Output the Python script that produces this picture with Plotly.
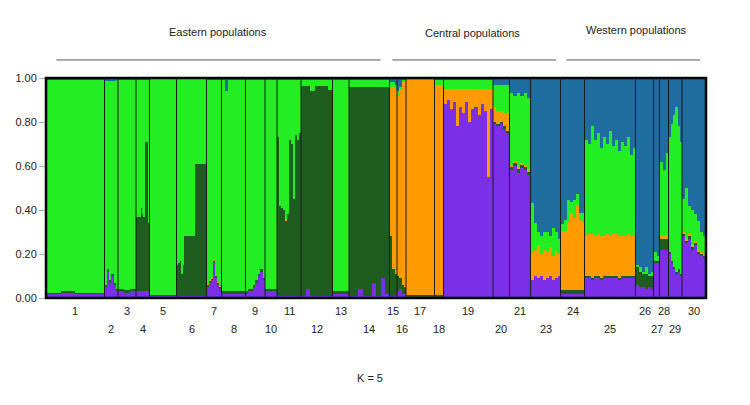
import plotly.graph_objects as go

# ---------------- data ----------------
pop_labels = ["1", "2", "3", "4", "5", "6", "7", "8", "9", "10", "11", "12", "13", "14",
              "15", "16", "17", "18", "19", "20", "21", "23", "24", "25", "26", "27", "28", "29", "30"]
pop_sizes = [39, 9, 12, 9, 18, 20, 10, 16, 13, 8, 16, 21, 11, 27,
             5, 6, 19, 6, 33, 11, 14, 20, 16, 34, 12, 4, 6, 9, 16]

cluster_names = ["Cluster 1", "Cluster 2", "Cluster 3", "Cluster 4", "Cluster 5"]
cluster_colors = ["#7b2fe6", "#1f5c1f", "#ff9a00", "#22ee22", "#1e6d9e"]

# membership rows per population: (purple, dark green, orange, green); blue = remainder
q_rows = {
    "1": [(0.02, 0.005, 0, 0.97), (0.025, 0.005, 0, 0.965), (0.02, 0.005, 0, 0.97), (0.02, 0.005, 0, 0.97)],
    "2": [(0.05, 0.01, 0, 0.925), (0.12, 0.01, 0, 0.855), (0.07, 0.01, 0, 0.905),
          (0.10, 0.01, 0, 0.875), (0.06, 0.01, 0, 0.915), (0.03, 0.01, 0, 0.95)],
    "3": [(0.03, 0.01, 0, 0.95), (0.025, 0.01, 0, 0.955), (0.03, 0.01, 0, 0.95)],
    "4": [(0.03, 0.34, 0, 0.625), (0.03, 0.34, 0, 0.625), (0.03, 0.34, 0, 0.625),
          (0.03, 0.38, 0, 0.585), (0.03, 0.35, 0, 0.615), (0.03, 0.34, 0, 0.625),
          (0.03, 0.68, 0, 0.285), (0.03, 0.68, 0, 0.285), (0.03, 0.31, 0, 0.655)],
    "5": [(0.01, 0.005, 0, 0.985), (0.01, 0.005, 0, 0.985)],
    "6": [(0.01, 0.14, 0, 0.85), (0.01, 0.15, 0, 0.84), (0.01, 0.16, 0, 0.83), (0.01, 0.10, 0, 0.89),
          (0.01, 0.14, 0, 0.85), (0.01, 0.27, 0, 0.72), (0.01, 0.27, 0, 0.72), (0.01, 0.27, 0, 0.72),
          (0.01, 0.27, 0, 0.72), (0.01, 0.27, 0, 0.72), (0.01, 0.27, 0, 0.72), (0.01, 0.27, 0, 0.72),
          (0.01, 0.60, 0, 0.39), (0.01, 0.60, 0, 0.39), (0.01, 0.60, 0, 0.39), (0.01, 0.60, 0, 0.39),
          (0.01, 0.60, 0, 0.39), (0.01, 0.60, 0, 0.39), (0.01, 0.60, 0, 0.39), (0.01, 0.60, 0, 0.39)],
    "7": [(0.05, 0.01, 0.005, 0.925), (0.07, 0.01, 0.005, 0.905), (0.08, 0.01, 0.005, 0.895),
          (0.16, 0.01, 0.005, 0.815), (0.09, 0.01, 0.005, 0.885), (0.06, 0.01, 0.005, 0.915),
          (0.04, 0.01, 0.005, 0.935)],
    "8": [(0.02, 0.01, 0, 0.96), (0.02, 0.01, 0, 0.91), (0.02, 0.01, 0, 0.96), (0.02, 0.01, 0, 0.96),
          (0.02, 0.01, 0, 0.96), (0.02, 0.01, 0, 0.96), (0.02, 0.01, 0, 0.96), (0.02, 0.01, 0, 0.96)],
    "9": [(0.02, 0.01, 0, 0.96), (0.03, 0.01, 0, 0.95), (0.03, 0.01, 0, 0.95), (0.05, 0.01, 0, 0.93),
          (0.07, 0.01, 0, 0.91), (0.10, 0.01, 0, 0.88), (0.12, 0.01, 0, 0.86), (0.08, 0.01, 0, 0.90)],
    "10": [(0.03, 0.01, 0, 0.95), (0.03, 0.01, 0, 0.95)],
    "11": [(0.01, 0.72, 0, 0.26), (0.01, 0.41, 0, 0.57), (0.01, 0.40, 0, 0.58), (0.01, 0.39, 0, 0.59),
           (0.01, 0.34, 0.01, 0.63), (0.01, 0.37, 0, 0.61), (0.01, 0.71, 0, 0.27), (0.01, 0.69, 0, 0.29),
           (0.01, 0.44, 0, 0.54), (0.01, 0.73, 0, 0.25), (0.01, 0.71, 0, 0.27), (0.01, 0.74, 0, 0.24)],
    "12": [(0.01, 0.955, 0, 0.03), (0.04, 0.925, 0, 0.03), (0.01, 0.93, 0, 0.055), (0.01, 0.955, 0, 0.03),
           (0.01, 0.955, 0, 0.03), (0.01, 0.955, 0, 0.03), (0.01, 0.935, 0, 0.05)],
    "13": [(0.02, 0.01, 0, 0.96), (0.02, 0.01, 0, 0.96)],
    "14": [(0.01, 0.95, 0, 0.03), (0.01, 0.95, 0, 0.03), (0.04, 0.92, 0, 0.03), (0.01, 0.95, 0, 0.03),
           (0.01, 0.95, 0, 0.03), (0.07, 0.89, 0, 0.03), (0.01, 0.95, 0, 0.03), (0.09, 0.87, 0, 0.03),
           (0.02, 0.94, 0, 0.03)],
    "15": [(0.01, 0.27, 0.68, 0.02), (0.01, 0.12, 0.83, 0.02), (0.01, 0.10, 0.84, 0.02)],
    "16": [(0.03, 0.07, 0.82, 0.02), (0.04, 0.05, 0.86, 0.01), (0.02, 0.04, 0.92, 0.01), (0.02, 0.03, 0.93, 0.01)],
    "17": [(0.005, 0.01, 0.975, 0.01), (0.005, 0.01, 0.975, 0.01)],
    "18": [(0.005, 0.01, 0.955, 0.02), (0.005, 0.01, 0.955, 0.02)],
    "19": [(0.88, 0, 0.07, 0.04), (0.90, 0, 0.05, 0.04), (0.86, 0, 0.09, 0.04), (0.89, 0, 0.06, 0.04),
           (0.78, 0, 0.17, 0.04), (0.87, 0, 0.08, 0.04), (0.84, 0, 0.11, 0.04), (0.89, 0, 0.06, 0.04),
           (0.80, 0, 0.15, 0.04), (0.86, 0, 0.09, 0.04), (0.87, 0, 0.08, 0.04), (0.83, 0, 0.12, 0.04),
           (0.88, 0, 0.07, 0.04), (0.85, 0, 0.10, 0.04), (0.55, 0, 0.40, 0.04), (0.86, 0, 0.09, 0.04)],
    "20": [(0.79, 0.01, 0.07, 0.10), (0.78, 0.01, 0.06, 0.12), (0.79, 0.01, 0.05, 0.12),
           (0.77, 0.01, 0.06, 0.13), (0.75, 0.01, 0.08, 0.13)],
    "21": [(0.58, 0.015, 0.01, 0.325), (0.60, 0.015, 0.01, 0.295), (0.57, 0.015, 0.01, 0.335),
           (0.59, 0.015, 0.01, 0.305), (0.58, 0.015, 0.01, 0.325), (0.56, 0.015, 0.01, 0.325)],
    "23": [(0.08, 0, 0.13, 0.22), (0.10, 0, 0.12, 0.12), (0.09, 0, 0.15, 0.06), (0.10, 0, 0.10, 0.08),
           (0.08, 0, 0.14, 0.08), (0.09, 0, 0.12, 0.09), (0.10, 0, 0.13, 0.05), (0.08, 0, 0.11, 0.13),
           (0.09, 0, 0.12, 0.09), (0.10, 0, 0.10, 0.07)],
    "24": [(0.02, 0.015, 0.27, 0.03), (0.02, 0.015, 0.27, 0.05), (0.02, 0.015, 0.31, 0.10),
           (0.02, 0.015, 0.35, 0.05), (0.02, 0.015, 0.33, 0.08), (0.02, 0.015, 0.39, 0.05),
           (0.02, 0.015, 0.32, 0.03), (0.02, 0.015, 0.31, 0.04)],
    "25": [(0.09, 0.01, 0.18, 0.44), (0.09, 0.01, 0.19, 0.41), (0.08, 0.01, 0.20, 0.49),
           (0.09, 0.01, 0.18, 0.44), (0.09, 0.01, 0.19, 0.46), (0.08, 0.01, 0.19, 0.40),
           (0.09, 0.01, 0.18, 0.45), (0.09, 0.01, 0.19, 0.41), (0.09, 0.01, 0.18, 0.48),
           (0.09, 0.01, 0.19, 0.40), (0.09, 0.01, 0.19, 0.43), (0.08, 0.01, 0.19, 0.39),
           (0.09, 0.01, 0.18, 0.43), (0.09, 0.01, 0.18, 0.41), (0.09, 0.01, 0.19, 0.44),
           (0.09, 0.01, 0.18, 0.37), (0.09, 0.01, 0.18, 0.40)],
    "26": [(0.06, 0.08, 0, 0.01), (0.05, 0.07, 0, 0.02), (0.05, 0.06, 0, 0.01),
           (0.04, 0.07, 0, 0.03), (0.05, 0.05, 0, 0.01), (0.04, 0.06, 0, 0.02)],
    "27": [(0.16, 0.01, 0, 0.04), (0.16, 0.01, 0, 0.02)],
    "28": [(0.22, 0.05, 0.015, 0.335), (0.22, 0.05, 0.015, 0.295), (0.22, 0.05, 0.015, 0.375)],
    "29": [(0.20, 0.01, 0, 0.52), (0.16, 0.01, 0, 0.62), (0.13, 0.01, 0, 0.69),
           (0.11, 0.01, 0, 0.75), (0.12, 0.01, 0, 0.65), (0.10, 0.01, 0, 0.60)],
    "30": [(0.28, 0.01, 0.01, 0.15), (0.25, 0.01, 0.01, 0.23), (0.27, 0.01, 0.01, 0.13),
           (0.22, 0.01, 0.01, 0.16), (0.24, 0.01, 0.01, 0.12), (0.20, 0.01, 0.01, 0.13),
           (0.19, 0.01, 0.01, 0.09), (0.18, 0.01, 0.01, 0.08)],
}

top_row_labels = ["1", "3", "5", "7", "9", "11", "13", "15", "17", "19", "21", "24", "26", "28", "30"]
region_names = ["Eastern populations", "Central populations", "Western populations"]
region_first_last = [("1", "14"), ("15", "23"), ("24", "30")]
k_label = "K = 5"
y_ticks = [0.0, 0.2, 0.4, 0.6, 0.8, 1.0]

# ---------------- build bars ----------------
xs, ws = [], []
vals = [[] for _ in range(5)]
starts = {}
pos = 0.0
for lab, n in zip(pop_labels, pop_sizes):
    rows = q_rows[lab]
    w = n / len(rows)
    starts[lab] = (pos, pos + n)
    for i, r in enumerate(rows):
        xs.append(pos + (i + 0.5) * w)
        ws.append(w)
        for k in range(4):
            vals[k].append(r[k])
        vals[4].append(max(0.0, 1.0 - sum(r)))
    pos += n
total = pos

fig = go.Figure()
for k in range(5):
    fig.add_trace(go.Bar(x=xs, y=vals[k], width=ws, name=cluster_names[k],
                         marker=dict(color=cluster_colors[k], line=dict(width=0)),
                         showlegend=False))

font_fam = "Liberation Sans Narrow, Arial Narrow, Liberation Sans, Arial, sans-serif"
fsize = 11

shapes = []
# population separators
for lab in pop_labels[1:]:
    x0 = starts[lab][0]
    shapes.append(dict(type="line", xref="x", yref="paper", x0=x0, x1=x0, y0=0, y1=1,
                       line=dict(color="#1a1a1a", width=1)))
# frame
shapes.append(dict(type="rect", xref="paper", yref="paper", x0=0, x1=1, y0=0, y1=1,
                   line=dict(color="black", width=2.5)))

annotations = []
for lab in pop_labels:
    a, b = starts[lab]
    ypos = -0.059 if lab in top_row_labels else -0.141
    annotations.append(dict(x=(a + b) / 2, y=ypos, xref="x", yref="paper", text=lab,
                            xanchor="center", yanchor="middle",
                            showarrow=False, font=dict(size=fsize, color="#222", family=font_fam)))

insets = [(7, 6), (2, 3), (4, 4)]
text_y = [1.209, 1.205, 1.218]
text_dx = [0, -2, 2]
for name, (f, l), (i0, i1), ty, dx in zip(region_names, region_first_last, insets, text_y, text_dx):
    a = starts[f][0]
    b = starts[l][1]
    shapes.append(dict(type="line", xref="x", yref="paper", x0=a + i0, x1=b - i1, y0=1.082, y1=1.082,
                       line=dict(color="#555", width=1)))
    annotations.append(dict(x=(a + b) / 2 + dx, y=ty, xref="x", yref="paper", text=name,
                            xanchor="center", yanchor="middle",
                            showarrow=False, font=dict(size=fsize, color="#222", family=font_fam)))

annotations.append(dict(x=0.491, y=-0.364, xref="paper", yref="paper", text=k_label,
                        xanchor="center", yanchor="middle",
                        showarrow=False, font=dict(size=fsize, color="#222", family=font_fam)))

# the page body adds an 8px margin, so the figure is sized/margined to compensate
fig.update_layout(
    width=742, height=397,
    margin=dict(l=38, r=44, t=70, b=107, autoexpand=False),
    paper_bgcolor="white", plot_bgcolor="white",
    barmode="stack", bargap=0,
    shapes=shapes, annotations=annotations,
    xaxis=dict(range=[0, total], showticklabels=False, showgrid=False, zeroline=False, ticks="",
               automargin=False),
    yaxis=dict(range=[0, 1], tickvals=y_ticks, tickformat=".2f", ticks="outside", ticklen=6,
               tickcolor="#aaaaaa", showgrid=False, zeroline=False, automargin=False,
               tickfont=dict(size=fsize, color="#222", family=font_fam)),
)

fig.write_html("out.html")
